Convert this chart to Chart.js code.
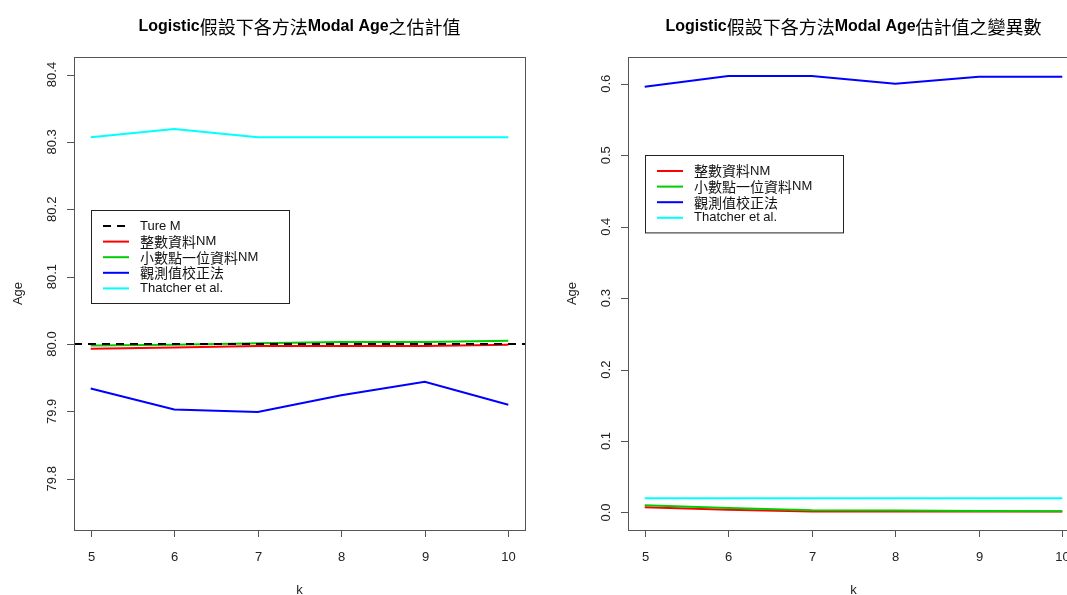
<!DOCTYPE html>
<html>
<head>
<meta charset="utf-8">
<script src="https://cdn.jsdelivr.net/npm/chart.js@4"></script>
<style>
  html, body { margin:0; padding:0; background:#fff; overflow:hidden; width:1067px; height:595px; }
  #left  { position:absolute; left:0;   top:0; width:533px; height:595px; }
  #right { position:absolute; left:533px; top:0; width:554px; height:595px; }
</style>
</head>
<body>
<div id="left"><canvas id="cLeft"></canvas></div>
<div id="right"><canvas id="cRight"></canvas></div>
<script>
// ---- data ----
const K = [5, 6, 7, 8, 9, 10];
const TRUE_M = 80;

// left: estimates of modal age
const EST_INT = [79.993, 79.995, 79.997, 79.997, 79.997, 79.999];
const EST_DEC = [79.998, 79.999, 80.001, 80.003, 80.003, 80.005];
const EST_OBS = [79.934, 79.903, 79.899, 79.924, 79.944, 79.910];
const EST_THA = [80.307, 80.319, 80.307, 80.307, 80.307, 80.307];

// right: variance of the estimates
const VAR_INT = [0.0075, 0.0040, 0.0015, 0.0013, 0.0013, 0.0013];
const VAR_DEC = [0.0102, 0.0063, 0.0030, 0.0027, 0.0020, 0.0019];
const VAR_OBS = [0.596, 0.611, 0.611, 0.600, 0.610, 0.610];
const VAR_THA = [0.020, 0.020, 0.020, 0.020, 0.020, 0.020];

const LEFT_TICKS  = [79.8, 79.9, 80.0, 80.1, 80.2, 80.3, 80.4];
const RIGHT_TICKS = [0.0, 0.1, 0.2, 0.3, 0.4, 0.5, 0.6];

const SERIES_NAMES = ["整數資料NM", "小數點一位資料NM", "觀測值校正法", "Thatcher et al."];
const SERIES_COLORS = ["#ff0000", "#00cd00", "#0000ff", "#00ffff"];

const LATIN = '"Liberation Sans", Arial, sans-serif';
const CJK = '"Noto Sans CJK TC", "Noto Sans CJK SC", sans-serif';

const pts = (ys) => ys.map((y, i) => ({ x: K[i], y }));

function makeDatasets(arrs){
  // lower order = drawn on top (green over red, like R's draw order)
  return arrs.map((a, i) => ({
    label: SERIES_NAMES[i],
    data: pts(a),
    borderColor: SERIES_COLORS[i],
    borderWidth: 2,
    pointRadius: 0,
    tension: 0,
    order: 10 - i
  }));
}

// latin / CJK runs get their own font, like the Windows R device does
function runs(text){
  const out = [];
  for (const ch of text){
    const cjk = /[\u3000-\u9fff\uff00-\uffef]/.test(ch);
    if (out.length && out[out.length - 1].cjk === cjk) out[out.length - 1].s += ch;
    else out.push({ s: ch, cjk });
  }
  return out;
}
function drawMixed(ctx, text, x, y, latinFont, cjkFont, align){
  const rs = runs(text);
  let w = 0;
  rs.forEach(r => { ctx.font = r.cjk ? cjkFont : latinFont; r.w = ctx.measureText(r.s).width; w += r.w; });
  let cx = align === "center" ? x - w / 2 : x;
  ctx.textAlign = "left";
  rs.forEach(r => { ctx.font = r.cjk ? cjkFont : latinFont; ctx.fillText(r.s, cx, y); cx += r.w; });
}

// R-like decorations: box, ticks, labels, title, legend
function rDecor(opts){
  return {
    id: "rdecor",
    afterDatasetsDraw(chart){
      const ctx = chart.ctx;
      const a = chart.chartArea;
      const xs = chart.scales.x, ys = chart.scales.y;
      ctx.save();

      // reference line
      if (opts.hline != null){
        const yy = ys.getPixelForValue(opts.hline);
        ctx.beginPath();
        ctx.rect(a.left, a.top, a.right - a.left, a.bottom - a.top);
        ctx.clip();
        ctx.strokeStyle = "#000";
        ctx.lineWidth = 2;
        ctx.setLineDash([8, 6]);
        ctx.beginPath();
        ctx.moveTo(a.left, yy);
        ctx.lineTo(a.right, yy);
        ctx.stroke();
        ctx.restore();
        ctx.save();
      }

      // box
      ctx.strokeStyle = "#555";
      ctx.lineWidth = 1;
      ctx.strokeRect(Math.round(a.left) + 0.5, Math.round(a.top) + 0.5,
                     Math.round(a.right - a.left), Math.round(a.bottom - a.top));

      // x ticks
      ctx.fillStyle = "#222";
      ctx.font = "13px " + LATIN;
      ctx.textAlign = "center";
      ctx.textBaseline = "middle";
      ctx.beginPath();
      K.forEach(k => {
        const px = Math.round(xs.getPixelForValue(k)) + 0.5;
        ctx.moveTo(px, a.bottom);
        ctx.lineTo(px, a.bottom + 7);
        ctx.fillText(String(k), px, a.bottom + 27);
      });
      ctx.stroke();

      // y ticks
      ctx.beginPath();
      opts.yticks.forEach(v => {
        const py = Math.round(ys.getPixelForValue(v)) + 0.5;
        ctx.moveTo(a.left, py);
        ctx.lineTo(a.left - 7, py);
      });
      ctx.stroke();
      opts.yticks.forEach(v => {
        const py = ys.getPixelForValue(v);
        ctx.save();
        ctx.translate(a.left - 22, py);
        ctx.rotate(-Math.PI / 2);
        ctx.fillText(v.toFixed(1), 0, 0);
        ctx.restore();
      });

      // axis titles
      const cx = (a.left + a.right) / 2;
      ctx.fillText("k", cx, a.bottom + 60);
      ctx.save();
      ctx.translate(a.left - 56, (a.top + a.bottom) / 2);
      ctx.rotate(-Math.PI / 2);
      ctx.fillText("Age", 0, 0);
      ctx.restore();

      // main title: latin bold, CJK regular
      ctx.fillStyle = "#000";
      drawMixed(ctx, opts.title, cx, 27, "bold 16px " + LATIN, "18px " + CJK, "center");

      // legend
      const L = opts.legend;
      const h = L.items.length * 15.6 + 15;
      ctx.fillStyle = "#fff";
      ctx.fillRect(L.x, L.y, 198, h);
      ctx.strokeStyle = "#222";
      ctx.lineWidth = 1;
      ctx.strokeRect(L.x + 0.5, L.y + 0.5, 198, h);
      L.items.forEach((it, i) => {
        const ry = L.y + 16 + i * 15.6;
        ctx.strokeStyle = it.color;
        ctx.lineWidth = 2;
        ctx.setLineDash(it.dash || []);
        ctx.beginPath();
        ctx.moveTo(L.x + 12, ry);
        ctx.lineTo(L.x + 38, ry);
        ctx.stroke();
        ctx.setLineDash([]);
        ctx.fillStyle = "#111";
        drawMixed(ctx, it.label, L.x + 49, ry, "13px " + LATIN, "14px " + CJK, "left");
      });

      ctx.restore();
    }
  };
}

function makeChart(id, datasets, ymin, ymax, pad, decor){
  return new Chart(document.getElementById(id), {
    type: "line",
    data: { datasets },
    options: {
      responsive: true,
      maintainAspectRatio: false,
      animation: false,
      layout: { padding: pad },
      plugins: { legend: { display: false }, tooltip: { enabled: false } },
      scales: {
        x: { type: "linear", min: 4.8, max: 10.2, display: false },
        y: { type: "linear", min: ymin, max: ymax, display: false }
      }
    },
    plugins: [rDecor(decor)]
  });
}

const legendItems = SERIES_NAMES.map((n, i) => ({ label: n, color: SERIES_COLORS[i] }));

makeChart("cLeft",
  makeDatasets([EST_INT, EST_DEC, EST_OBS, EST_THA]),
  79.724, 80.426,
  { left: 74, top: 57, right: 8, bottom: 65 },
  {
    title: "Logistic假設下各方法Modal Age之估計值",
    yticks: LEFT_TICKS,
    hline: TRUE_M,
    legend: { x: 91, y: 210, items: [{ label: "Ture M", color: "#000", dash: [8, 6] }].concat(legendItems) }
  });

makeChart("cRight",
  makeDatasets([VAR_INT, VAR_DEC, VAR_OBS, VAR_THA]),
  -0.0245, 0.6375,
  { left: 95, top: 57, right: 8, bottom: 65 },
  {
    title: "Logistic假設下各方法Modal Age估計值之變異數",
    yticks: RIGHT_TICKS,
    hline: null,
    legend: { x: 112, y: 155, items: legendItems }
  });
</script>
</body>
</html>
